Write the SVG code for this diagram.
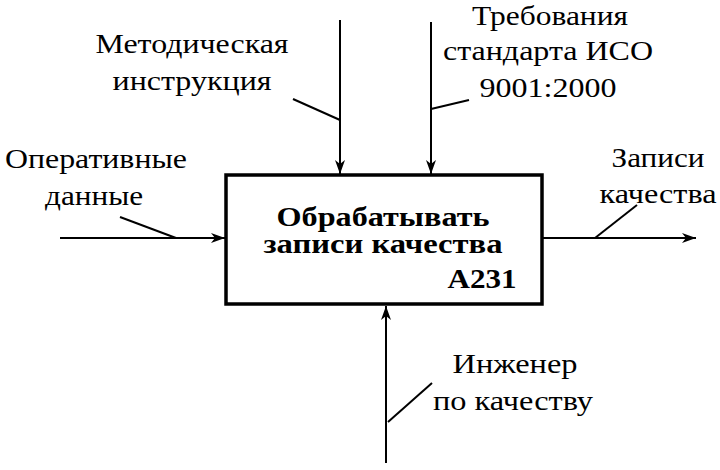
<svg xmlns="http://www.w3.org/2000/svg" width="720" height="470" viewBox="0 0 720 470">
<defs>
<marker id="ah" viewBox="0 0 14 10" refX="14" refY="5" markerWidth="14" markerHeight="10" markerUnits="userSpaceOnUse" orient="auto">
<path d="M0,0 L14,5 L0,10 L4,5 Z" fill="#000"/>
</marker>
</defs>
<style>
.t{font-family:"Liberation Serif","DejaVu Serif","Times New Roman",serif;font-size:27px;fill:#000;text-anchor:middle}
.b{font-family:"Liberation Serif","DejaVu Serif","Times New Roman",serif;font-size:27px;font-weight:bold;fill:#000;text-anchor:middle}
.ln{stroke:#000;stroke-width:2;fill:none}
.box{stroke:#000;stroke-width:3.5;fill:#fff}
</style>
<rect width="720" height="470" fill="#fff"/>
<g id="connectors">
<line class="ln" x1="340" y1="20" x2="340" y2="174" marker-end="url(#ah)"/>
<line class="ln" x1="293" y1="99" x2="340" y2="120"/>
<line class="ln" x1="431" y1="22" x2="431" y2="174" marker-end="url(#ah)"/>
<line class="ln" x1="431" y1="109" x2="469" y2="100"/>
<line class="ln" x1="60" y1="238" x2="225" y2="238" marker-end="url(#ah)"/>
<line class="ln" x1="120" y1="217" x2="176" y2="238"/>
<line class="ln" x1="542" y1="238" x2="696" y2="238" marker-end="url(#ah)"/>
<line class="ln" x1="595" y1="238" x2="637" y2="205"/>
<line class="ln" x1="386" y1="463" x2="386" y2="306" marker-end="url(#ah)"/>
<line class="ln" x1="388" y1="422" x2="432" y2="383"/>
</g>
<g id="A231">
<rect class="box" x="226" y="175" width="316" height="129"/>
<text class="b" x="383" y="226" textLength="213" lengthAdjust="spacingAndGlyphs">Обрабатывать</text>
<text class="b" x="383" y="253" textLength="239" lengthAdjust="spacingAndGlyphs">записи качества</text>
<text class="b" x="482" y="288" textLength="69" lengthAdjust="spacingAndGlyphs">A231</text>
</g>
<g id="label-control1">
<text class="t" x="192" y="53" textLength="193" lengthAdjust="spacingAndGlyphs">Методическая</text>
<text class="t" x="192" y="90" textLength="159" lengthAdjust="spacingAndGlyphs">инструкция</text>
</g>
<g id="label-control2">
<text class="t" x="550" y="25" textLength="156" lengthAdjust="spacingAndGlyphs">Требования</text>
<text class="t" x="548" y="60" textLength="210" lengthAdjust="spacingAndGlyphs">стандарта ИСО</text>
<text class="t" x="548" y="97" textLength="137" lengthAdjust="spacingAndGlyphs">9001:2000</text>
</g>
<g id="label-input">
<text class="t" x="96" y="168" textLength="182" lengthAdjust="spacingAndGlyphs">Оперативные</text>
<text class="t" x="94" y="205" textLength="98" lengthAdjust="spacingAndGlyphs">данные</text>
</g>
<g id="label-output">
<text class="t" x="658" y="167" textLength="93" lengthAdjust="spacingAndGlyphs">Записи</text>
<text class="t" x="658" y="203" textLength="117" lengthAdjust="spacingAndGlyphs">качества</text>
</g>
<g id="label-mechanism">
<text class="t" x="515" y="373" textLength="125" lengthAdjust="spacingAndGlyphs">Инженер</text>
<text class="t" x="513" y="410" textLength="160" lengthAdjust="spacingAndGlyphs">по качеству</text>
</g>
</svg>
